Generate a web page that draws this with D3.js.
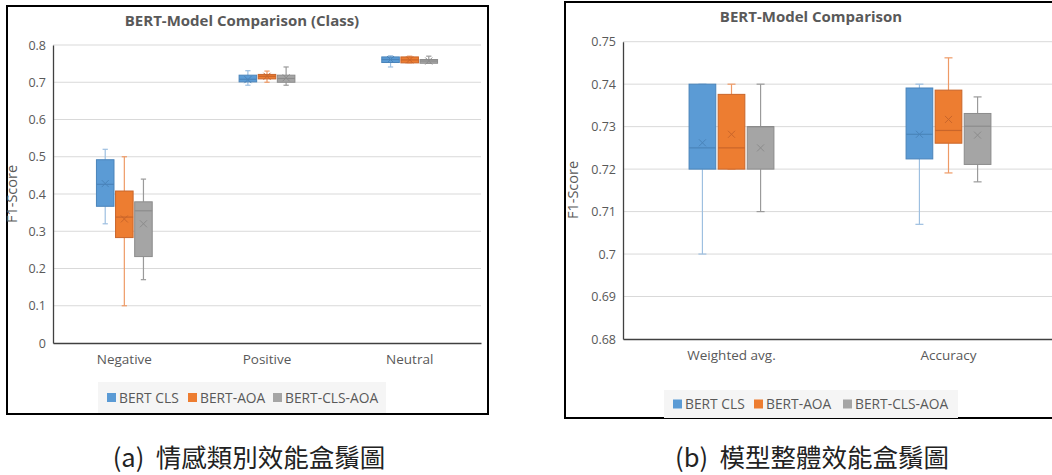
<!DOCTYPE html>
<html lang="zh-Hant">
<head>
<meta charset="UTF-8">
<title>BERT-Model Comparison</title>
<script src="https://d3js.org/d3.v7.min.js"></script>
<style>
    body { margin: 0; background: #fff; }
    svg { display: block; }
    text { font-family: "Open Sans", "Noto Sans", sans-serif; fill: #595959; }
    .caption { font-family: "Noto Sans CJK TC", "Noto Sans", sans-serif; fill: #222; white-space: pre; }
</style>
</head>
<body>
<svg id="chart" width="1052" height="475"></svg>
<script>
// categories and series
const classCats = ["Negative", "Positive", "Neutral"];
const overallCats = ["Weighted avg.", "Accuracy"];
const seriesNames = ["BERT CLS", "BERT-AOA", "BERT-CLS-AOA"];

// each entry: [min, q1, median, q3, max, mean]
const classBertCls    = [[0.32, 0.367, 0.426, 0.492, 0.52, 0.428], [0.692, 0.701, 0.708, 0.719, 0.731, 0.707], [0.741, 0.753, 0.761, 0.768, 0.771, 0.761]];
const classBertAoa    = [[0.10, 0.283, 0.338, 0.408, 0.50, 0.333], [0.700, 0.709, 0.716, 0.721, 0.730, 0.716], [0.752, 0.752, 0.760, 0.768, 0.770, 0.760]];
const classBertClsAoa = [[0.17, 0.232, 0.355, 0.379, 0.44, 0.320], [0.692, 0.700, 0.710, 0.719, 0.741, 0.712], [0.751, 0.751, 0.757, 0.761, 0.770, 0.757]];

const overallBertCls    = [[0.700, 0.720, 0.725, 0.740, 0.740, 0.7262], [0.707, 0.7224, 0.7282, 0.7391, 0.740, 0.7282]];
const overallBertAoa    = [[0.720, 0.720, 0.725, 0.7376, 0.740, 0.7282], [0.7191, 0.7261, 0.7291, 0.7386, 0.7462, 0.7317]];
const overallBertClsAoa = [[0.710, 0.720, 0.730, 0.730, 0.740, 0.725], [0.717, 0.7211, 0.7301, 0.7331, 0.737, 0.728]];

const classTicks = [0, 0.1, 0.2, 0.3, 0.4, 0.5, 0.6, 0.7, 0.8];
const overallTicks = [0.68, 0.69, 0.70, 0.71, 0.72, 0.73, 0.74, 0.75];

const fills = ["#5b9bd5", "#ed7d31", "#a5a5a5"];
const darks = ["#4a84ba", "#c9652a", "#8c8c8c"];
const whiskerCols = ["#9dbfe0", "#ee9a66", "#9a9a9a"];

const svg = d3.select("#chart");

function drawPanel(cfg) {
    const g = svg.append("g");

    // frame
    g.append("rect")
        .attr("x", cfg.frame[0]).attr("y", cfg.frame[1])
        .attr("width", cfg.frame[2]).attr("height", cfg.frame[3])
        .attr("fill", "#fff").attr("stroke", "#000").attr("stroke-width", 2);

    const x = d3.scaleBand().domain(cfg.cats).range([cfg.left, cfg.right]);
    const y = d3.scaleLinear().domain(cfg.domain).range([cfg.bottom, cfg.top]);

    // gridlines
    g.append("g").selectAll("line")
        .data(cfg.ticks.slice(1))
        .join("line")
        .attr("x1", cfg.left).attr("x2", cfg.right)
        .attr("y1", d => y(d)).attr("y2", d => y(d))
        .attr("stroke", "#d9d9d9").attr("stroke-width", 1);

    // axes
    const yAxis = g.append("g")
        .attr("transform", `translate(${cfg.left},0)`)
        .call(d3.axisLeft(y).tickValues(cfg.ticks).tickSize(0).tickPadding(7).tickFormat(d3.format("~g")));
    yAxis.select(".domain").attr("stroke", "#404040").attr("stroke-width", 1.3);
    yAxis.selectAll("text").attr("font-size", 12.5).attr("fill", "#595959")
        .style("font-family", "'Open Sans', sans-serif");

    const xAxis = g.append("g")
        .attr("transform", `translate(0,${cfg.bottom})`)
        .call(d3.axisBottom(x).tickSize(0).tickPadding(11));
    xAxis.select(".domain").attr("stroke", "#404040").attr("stroke-width", 1.3);
    xAxis.selectAll("text").attr("font-size", 13.5).attr("fill", "#595959")
        .style("font-family", "'Open Sans', sans-serif");

    // title
    g.append("text")
        .attr("x", cfg.titleX).attr("y", cfg.titleY)
        .attr("text-anchor", "middle")
        .attr("font-size", 15).attr("font-weight", "bold")
        .text(cfg.title);

    // y label
    g.append("text")
        .attr("transform", `translate(${cfg.ylabX},${cfg.ylabY}) rotate(-90)`)
        .attr("text-anchor", "middle")
        .attr("font-size", 14.5)
        .text("F1-Score");

    // boxes
    const bw = x.bandwidth();
    const step = bw * 0.134;
    const boxW = bw * 0.123;
    const capW = Math.max(5, boxW * 0.3);

    cfg.series.forEach((stats, si) => {
        const sg = g.append("g");
        stats.forEach((s, ci) => {
            const [mn, q1, med, q3, mx, mean] = s;
            const cx = x(cfg.cats[ci]) + bw / 2 + (si - 1) * step;
            // whiskers
            sg.append("line")
                .attr("x1", cx).attr("x2", cx)
                .attr("y1", y(mx)).attr("y2", y(q3))
                .attr("stroke", whiskerCols[si]).attr("stroke-width", 1.2);
            sg.append("line")
                .attr("x1", cx).attr("x2", cx)
                .attr("y1", y(q1)).attr("y2", y(mn))
                .attr("stroke", whiskerCols[si]).attr("stroke-width", 1.2);
            [mn, mx].forEach(v => {
                sg.append("line")
                    .attr("x1", cx - capW / 2).attr("x2", cx + capW / 2)
                    .attr("y1", y(v)).attr("y2", y(v))
                    .attr("stroke", whiskerCols[si]).attr("stroke-width", 1.2);
            });
            // box
            sg.append("rect")
                .attr("x", cx - boxW / 2).attr("y", y(q3))
                .attr("width", boxW).attr("height", Math.max(1, y(q1) - y(q3)))
                .attr("fill", fills[si]).attr("stroke", darks[si]).attr("stroke-width", 1);
            // median
            sg.append("line")
                .attr("x1", cx - boxW / 2).attr("x2", cx + boxW / 2)
                .attr("y1", y(med)).attr("y2", y(med))
                .attr("stroke", darks[si]).attr("stroke-width", 1.2);
            // mean marker
            const m = Math.min(3.5, boxW * 0.2);
            sg.append("path")
                .attr("d", `M${cx - m},${y(mean) - m}L${cx + m},${y(mean) + m}M${cx - m},${y(mean) + m}L${cx + m},${y(mean) - m}`)
                .attr("stroke", darks[si]).attr("stroke-width", 1).attr("fill", "none");
        });
    });

    // legend
    const lg = g.append("g");
    lg.append("rect")
        .attr("x", cfg.legend.x).attr("y", cfg.legend.y)
        .attr("width", cfg.legend.w).attr("height", cfg.legend.h)
        .attr("fill", "#f5f5f5");
    seriesNames.forEach((name, i) => {
        const lx = cfg.legend.items[i];
        const ly = cfg.legend.y + cfg.legend.h / 2;
        lg.append("rect")
            .attr("x", lx).attr("y", ly - 4.5)
            .attr("width", 9).attr("height", 9)
            .attr("fill", fills[i]);
        lg.append("text")
            .attr("x", lx + 12).attr("y", ly + 5)
            .attr("font-size", 13.8)
            .text(name);
    });
}

drawPanel({
    frame: [7, 6, 481, 408],
    cats: classCats,
    series: [classBertCls, classBertAoa, classBertClsAoa],
    domain: [0, 0.8],
    ticks: classTicks,
    left: 53, right: 481, top: 45, bottom: 343,
    title: "BERT-Model Comparison (Class)", titleX: 242, titleY: 26,
    ylabX: 17, ylabY: 194,
    legend: { x: 98, y: 382, w: 288, h: 31, items: [107, 188, 273] }
});

drawPanel({
    frame: [565, 2, 520, 416],
    cats: overallCats,
    series: [overallBertCls, overallBertAoa, overallBertClsAoa],
    domain: [0.68, 0.75],
    ticks: overallTicks,
    left: 623, right: 1057, top: 41.7, bottom: 339,
    title: "BERT-Model Comparison", titleX: 811, titleY: 22,
    ylabX: 578, ylabY: 190,
    legend: { x: 664, y: 390, w: 294, h: 28, items: [673, 754, 843] }
});

// captions
svg.append("text").attr("class", "caption")
    .attr("x", 249).attr("y", 467)
    .attr("text-anchor", "middle")
    .attr("font-size", 25.5)
    .text("(a)  情感類別效能盒鬚圖");
svg.append("text").attr("class", "caption")
    .attr("x", 812).attr("y", 467)
    .attr("text-anchor", "middle")
    .attr("font-size", 25.5)
    .text("(b)  模型整體效能盒鬚圖");
</script>
</body>
</html>
